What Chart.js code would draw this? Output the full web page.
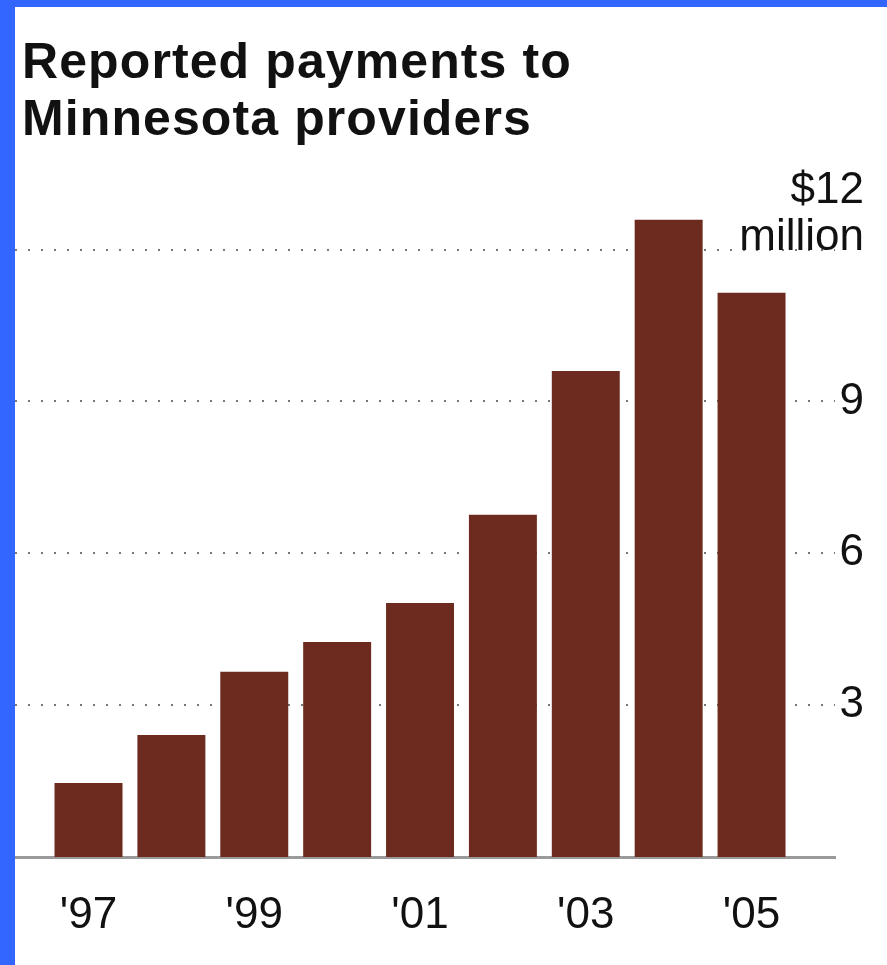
<!DOCTYPE html>
<html>
<head>
<meta charset="utf-8">
<script src="https://cdn.jsdelivr.net/npm/chart.js@4"></script>
<style>
  body { margin: 0; background: #3366ff; width: 887px; height: 965px; overflow: hidden; }
  #panel { position: absolute; left: 15px; top: 7px; width: 872px; height: 958px; background: #fff; }
  #title { position: absolute; left: 7px; top: 26px; font: bold 50px "Liberation Sans", Arial, sans-serif; line-height: 57px; color: #111; letter-spacing: 1.1px; }
  canvas { position: absolute; left: 0; top: 0; }
</style>
</head>
<body>
<div id="panel">
  <div id="title">Reported payments to<br>Minnesota providers</div>
  <canvas id="chart" width="872" height="958"></canvas>
</div>
<script>
// Payments by year, $ millions
const years = [1997, 1998, 1999, 2000, 2001, 2002, 2003, 2004, 2005];
const payments = [1.46, 2.41, 3.66, 4.25, 5.02, 6.76, 9.6, 12.59, 11.15];
const yearLabels = [1997, 1999, 2001, 2003, 2005];
const valueTicks = [3, 6, 9, 12];

const ctx = document.getElementById('chart').getContext('2d');
const chart = new Chart(ctx, {
  type: 'bar',
  data: {
    datasets: [{
      data: years.map((y, i) => ({ x: y, y: payments[i] })),
      backgroundColor: '#6d2a1e',
      borderWidth: 0,
      categoryPercentage: 1,
      barPercentage: 0.82
    }]
  },
  options: {
    responsive: false,
    animation: false,
    layout: { padding: { top: 192, left: 0, right: 0, bottom: 0 } },
    plugins: { legend: { display: false }, tooltip: { enabled: false } },
    scales: {
      x: {
        type: 'linear',
        offset: false,
        min: 1996.113,
        max: 2006.007,
        grid: { display: false, drawTicks: false },
        border: { display: true, color: '#9a9a9a', width: 3 },
        afterBuildTicks: s => { s.ticks = yearLabels.map(v => ({ value: v })); },
        afterFit: s => { s.height = 108; },
        ticks: {
          padding: 32,
          color: '#111',
          font: { family: '"Liberation Sans", Arial, sans-serif', size: 44 },
          callback: v => "'" + String(v).slice(2)
        }
      },
      y: {
        position: 'right',
        min: 0,
        max: 13,
        afterBuildTicks: s => { s.ticks = valueTicks.map(v => ({ value: v })); },
        afterFit: s => { s.width = 52; },
        grid: { color: '#777', lineWidth: 2, drawTicks: false },
        border: { display: false, dash: [2, 11] },
        ticks: {
          mirror: true,
          crossAlign: 'near',
          padding: 29,
          color: '#111',
          // top label sits above its gridline: spread lines so "million" rests on it
          font: c => (c.tick && c.tick.value === 12)
            ? { family: '"Liberation Sans", Arial, sans-serif', size: 44, lineHeight: 0.53 }
            : { family: '"Liberation Sans", Arial, sans-serif', size: 44 },
          callback: v => v === 12 ? ['$12', '', 'million', '', '', ''] : String(v)
        }
      }
    }
  }
});
</script>
</body>
</html>
